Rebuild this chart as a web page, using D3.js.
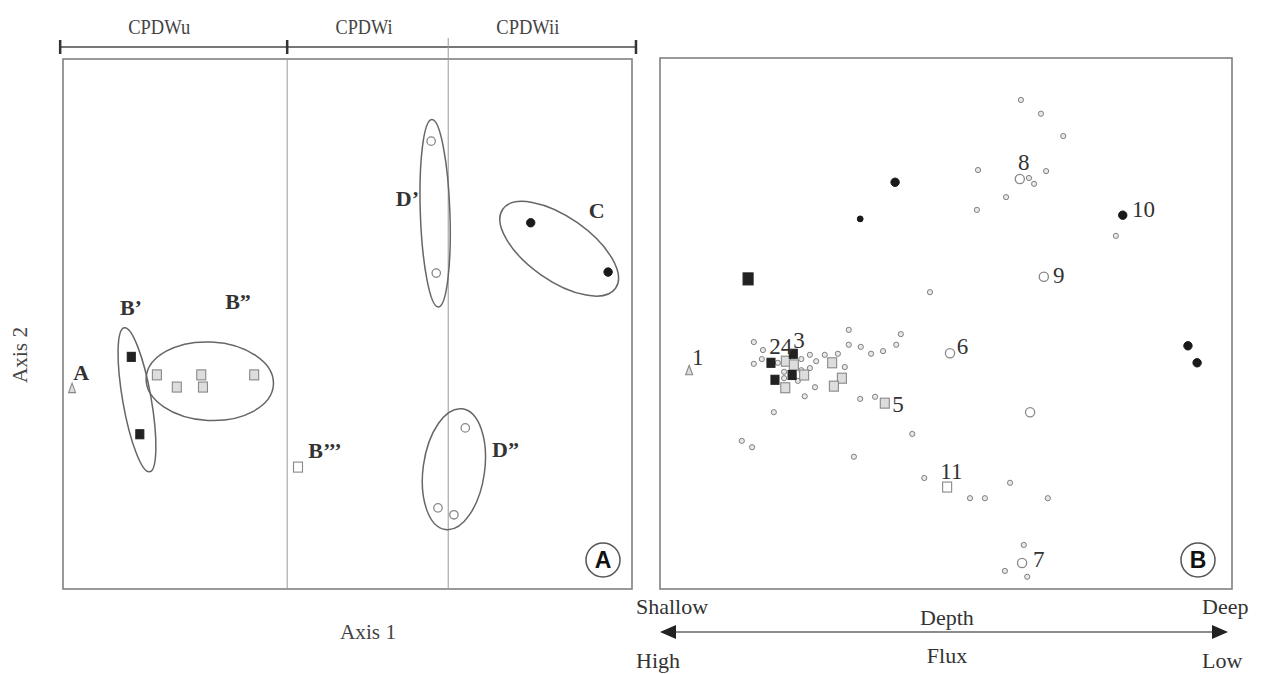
<!DOCTYPE html>
<html>
<head>
<meta charset="utf-8">
<script src="https://cdn.jsdelivr.net/npm/d3@7"></script>
<style>
  body { margin: 0; background: #fff; }
  text { font-family: "Liberation Serif", "Times New Roman", serif; fill: #222; }
</style>
</head>
<body>
<div id="chart"></div>
<script>
// ---- data (panel units 0..100 on both axes) ----

// panel A : groups along axis 1
var groupNames = ["CPDWu", "CPDWi", "CPDWii"];
var groupBounds = [-0.5, 39.4, 67.7, 100.7];
var groupLabelX = [16.9, 52.9, 81.7];
var groupLabelW = [62, 57, 63];

var aTriangle = [{x: 1.6, y: 37.9}];
var aFilledSq = [{x: 12.0, y: 43.8}, {x: 13.5, y: 29.2}];
var aGreySq = [{x: 16.5, y: 40.4}, {x: 20.0, y: 38.1}, {x: 24.3, y: 40.4}, {x: 24.6, y: 38.1}, {x: 33.6, y: 40.4}];
var aOpenSq = [{x: 41.3, y: 23.0}];
var aOpenCircle = [{x: 64.7, y: 84.5}, {x: 65.6, y: 59.6}, {x: 70.7, y: 30.4}, {x: 65.9, y: 15.3}, {x: 68.7, y: 14.0}];
var aFilledCircle = [{x: 82.2, y: 69.1}, {x: 95.8, y: 59.8}];

// cluster ellipses: centre, radii, rotation (deg)
var aClusters = [
  {name: "B’", cx: 13.0, cy: 35.7, rx: 2.5, ry: 13.8, rot: -10},
  {name: "B”", cx: 25.8, cy: 39.2, rx: 11.2, ry: 7.4, rot: 3},
  {name: "D’", cx: 65.4, cy: 70.9, rx: 2.6, ry: 17.7, rot: -2},
  {name: "C", cx: 87.2, cy: 64.2, rx: 12.1, ry: 6.0, rot: 35},
  {name: "D”", cx: 68.7, cy: 22.6, rx: 5.4, ry: 11.5, rot: 8}
];
var aLabels = [
  {t: "A", x: 1.8, y: 39.4}, {t: "B’", x: 10.0, y: 51.7}, {t: "B”", x: 28.5, y: 52.8},
  {t: "B’’’", x: 43.1, y: 24.7}, {t: "D’", x: 58.5, y: 72.3}, {t: "C", x: 92.4, y: 70.0},
  {t: "D”", x: 75.4, y: 24.9}
];

// panel B : samples
var bSmallCircle = [
  {x: 16.4, y: 46.5}, {x: 18.0, y: 45.0}, {x: 17.8, y: 43.3}, {x: 16.4, y: 42.4}, {x: 20.6, y: 42.6},
  {x: 21.7, y: 40.9}, {x: 21.7, y: 39.7}, {x: 24.7, y: 43.3}, {x: 26.2, y: 44.1}, {x: 27.3, y: 42.9},
  {x: 28.8, y: 44.1}, {x: 31.1, y: 44.3}, {x: 32.3, y: 41.8}, {x: 24.7, y: 41.2}, {x: 26.2, y: 41.6},
  {x: 24.1, y: 39.2}, {x: 27.1, y: 38.0}, {x: 25.3, y: 36.3}, {x: 19.9, y: 33.3}, {x: 33.0, y: 48.8},
  {x: 33.0, y: 46.0}, {x: 35.1, y: 45.6}, {x: 36.9, y: 44.3}, {x: 39.0, y: 44.8}, {x: 41.3, y: 46.0},
  {x: 42.1, y: 48.0}, {x: 35.0, y: 35.8}, {x: 37.6, y: 36.2}, {x: 44.1, y: 29.2}, {x: 14.3, y: 27.9},
  {x: 16.1, y: 26.7}, {x: 33.9, y: 24.9}, {x: 46.2, y: 20.9}, {x: 54.2, y: 17.1}, {x: 56.8, y: 17.1},
  {x: 61.2, y: 20.0}, {x: 67.8, y: 17.1}, {x: 63.6, y: 8.3}, {x: 60.3, y: 3.4}, {x: 64.2, y: 2.3},
  {x: 47.2, y: 55.9}, {x: 63.1, y: 92.1}, {x: 66.6, y: 89.5}, {x: 70.5, y: 85.3}, {x: 55.6, y: 78.9},
  {x: 67.5, y: 78.7}, {x: 64.5, y: 77.4}, {x: 65.4, y: 76.3}, {x: 60.5, y: 73.8}, {x: 55.4, y: 71.4},
  {x: 79.7, y: 66.5}, {x: 35.0, y: 69.7}
];
var bOpenCircle = [{x: 50.7, y: 44.4}, {x: 62.9, y: 77.2}, {x: 67.1, y: 58.8}, {x: 64.7, y: 33.3}, {x: 63.3, y: 4.9}];
var bFilledCircle = [{x: 80.9, y: 70.4}, {x: 92.3, y: 45.8}, {x: 93.9, y: 42.6}, {x: 41.1, y: 76.6}, {x: 35.0, y: 69.7, small: true}];
var bFilledSq = [{x: 15.4, y: 58.4, big: true}, {x: 19.4, y: 42.6}, {x: 23.3, y: 44.3}, {x: 20.1, y: 39.4}, {x: 23.1, y: 40.3}];
var bGreySq = [{x: 22.0, y: 42.9}, {x: 23.4, y: 42.2}, {x: 25.2, y: 40.3}, {x: 21.9, y: 37.9}, {x: 30.1, y: 42.6},
  {x: 31.8, y: 39.7}, {x: 30.4, y: 38.2}, {x: 39.3, y: 35.0}];
var bOpenSq = [{x: 50.2, y: 19.2}];
var bTriangle = [{x: 5.1, y: 41.2}];
var bLabels = [
  {t: "1", x: 5.6, y: 42.2}, {t: "24", x: 19.1, y: 44.3}, {t: "3", x: 23.3, y: 45.4}, {t: "5", x: 40.6, y: 33.3},
  {t: "6", x: 51.9, y: 44.3}, {t: "8", x: 62.6, y: 78.9}, {t: "9", x: 68.7, y: 57.6}, {t: "10", x: 82.5, y: 70.1},
  {t: "11", x: 49.0, y: 20.7}, {t: "7", x: 65.2, y: 4.1}
];

// gradient labels under panel B
var gradTop = ["Shallow", "Depth", "Deep"];
var gradBottom = ["High", "Flux", "Low"];

// ---- drawing ----
var W = 1263, H = 674;
var svg = d3.select("#chart").append("svg")
  .attr("width", W).attr("height", H);

var xA = d3.scaleLinear().domain([0, 100]).range([63, 632]);
var yA = d3.scaleLinear().domain([0, 100]).range([589, 59]);
var xB = d3.scaleLinear().domain([0, 100]).range([660, 1232]);
var yB = d3.scaleLinear().domain([0, 100]).range([589, 58]);

var greyLine = "#808080";

// marker helpers
function squares(g, data, x, y, fill, stroke, w) {
  g.selectAll(null).data(data).enter().append("rect")
    .attr("x", function(d) { var s = d.big ? w + 2 : w; return x(d.x) - s / 2; })
    .attr("y", function(d) { var s = d.big ? w + 4 : w + 1; return y(d.y) - s / 2; })
    .attr("width", function(d) { return d.big ? w + 2 : w; })
    .attr("height", function(d) { return d.big ? w + 4 : w + 1; })
    .style("fill", fill).style("stroke", stroke).style("stroke-width", 1.1);
}
function circles(g, data, x, y, r, fill, stroke, sw) {
  g.selectAll(null).data(data).enter().append("circle")
    .attr("cx", function(d) { return x(d.x); })
    .attr("cy", function(d) { return y(d.y); })
    .attr("r", function(d) { return d.small ? r - 1.3 : r; })
    .style("fill", fill).style("stroke", stroke).style("stroke-width", sw);
}
function triangles(g, data, x, y) {
  g.selectAll(null).data(data).enter().append("path")
    .attr("d", function(d) {
      var px = x(d.x), py = y(d.y);
      return "M" + px + "," + (py - 5) + "L" + (px + 3.5) + "," + (py + 4.5) + "L" + (px - 3.5) + "," + (py + 4.5) + "Z";
    })
    .style("fill", "#ddd").style("stroke", "#888").style("stroke-width", 1.1);
}
function circledLetter(g, cx, cy, letter) {
  g.append("circle").attr("cx", cx).attr("cy", cy).attr("r", 17)
    .style("fill", "#fff").style("stroke", "#555").style("stroke-width", 1.5);
  g.append("text").attr("x", cx).attr("y", cy + 8).attr("text-anchor", "middle")
    .style("font-family", "'Liberation Sans', Arial, sans-serif").style("font-weight", "bold")
    .style("font-size", "23px").style("fill", "#111")
    .text(letter);
}

// ===== panel A =====
var gA = svg.append("g");

// bracket with group ticks
gA.append("line")
  .attr("x1", xA(groupBounds[0])).attr("x2", xA(groupBounds[3]))
  .attr("y1", 47).attr("y2", 47)
  .style("stroke", "#777").style("stroke-width", 2);
gA.selectAll(null).data([groupBounds[0], groupBounds[1], groupBounds[3]]).enter().append("line")
  .attr("x1", function(d) { return xA(d); }).attr("x2", function(d) { return xA(d); })
  .attr("y1", 40).attr("y2", 54)
  .style("stroke", "#333").style("stroke-width", 2.5);

gA.selectAll(null).data(groupNames).enter().append("text")
  .attr("x", function(d, i) { return xA(groupLabelX[i]); })
  .attr("y", 34)
  .attr("text-anchor", "middle")
  .style("font-size", "21px").style("fill", "#444")
  .attr("textLength", function(d, i) { return groupLabelW[i]; })
  .attr("lengthAdjust", "spacingAndGlyphs")
  .text(function(d) { return d; });

// frame + dividers
gA.append("rect")
  .attr("x", xA(0)).attr("y", yA(100))
  .attr("width", xA(100) - xA(0)).attr("height", yA(0) - yA(100))
  .style("fill", "none").style("stroke", greyLine).style("stroke-width", 1.6);
gA.append("line")
  .attr("x1", xA(groupBounds[1])).attr("x2", xA(groupBounds[1]))
  .attr("y1", yA(100)).attr("y2", yA(0))
  .style("stroke", "#999").style("stroke-width", 1);
gA.append("line")
  .attr("x1", xA(groupBounds[2])).attr("x2", xA(groupBounds[2]))
  .attr("y1", 38).attr("y2", yA(0))
  .style("stroke", "#999").style("stroke-width", 1);

// cluster ellipses
var kx = (xA(1) - xA(0)), ky = (yA(0) - yA(1));
gA.selectAll(null).data(aClusters).enter().append("ellipse")
  .attr("cx", 0).attr("cy", 0)
  .attr("rx", function(d) { return d.rx * kx; })
  .attr("ry", function(d) { return d.ry * ky; })
  .attr("transform", function(d) { return "translate(" + xA(d.cx) + "," + yA(d.cy) + ") rotate(" + d.rot + ")"; })
  .style("fill", "none").style("stroke", "#666").style("stroke-width", 1.5);

// points
triangles(gA, aTriangle, xA, yA);
squares(gA, aFilledSq, xA, yA, "#222", "#222", 8);
squares(gA, aGreySq, xA, yA, "#ddd", "#888", 9);
squares(gA, aOpenSq, xA, yA, "#fff", "#888", 9);
circles(gA, aOpenCircle, xA, yA, 4.2, "#fff", "#888", 1.3);
circles(gA, aFilledCircle, xA, yA, 4.2, "#1a1a1a", "#1a1a1a", 1);

gA.selectAll(null).data(aLabels).enter().append("text")
  .attr("x", function(d) { return xA(d.x); })
  .attr("y", function(d) { return yA(d.y); })
  .style("font-size", "22px").style("font-weight", "bold").style("fill", "#333")
  .text(function(d) { return d.t; });

circledLetter(gA, 603, 560, "A");

// axis titles
gA.append("text")
  .attr("transform", "translate(27,355) rotate(-90)")
  .attr("text-anchor", "middle")
  .style("font-size", "20px").style("fill", "#444")
  .attr("textLength", 56).attr("lengthAdjust", "spacingAndGlyphs")
  .text("Axis 2");
gA.append("text")
  .attr("x", 368).attr("y", 639)
  .attr("text-anchor", "middle")
  .style("font-size", "20px").style("fill", "#444")
  .attr("textLength", 56).attr("lengthAdjust", "spacingAndGlyphs")
  .text("Axis 1");

// ===== panel B =====
var gB = svg.append("g");

gB.append("rect")
  .attr("x", xB(0)).attr("y", yB(100))
  .attr("width", xB(100) - xB(0)).attr("height", yB(0) - yB(100))
  .style("fill", "none").style("stroke", greyLine).style("stroke-width", 1.6);

circles(gB, bSmallCircle, xB, yB, 2.6, "#e8e8e8", "#808080", 1);
circles(gB, bOpenCircle, xB, yB, 4.6, "#fff", "#888", 1.3);
circles(gB, bFilledCircle, xB, yB, 4.2, "#1a1a1a", "#1a1a1a", 1);
squares(gB, bGreySq, xB, yB, "#ddd", "#888", 9);
squares(gB, bFilledSq, xB, yB, "#222", "#222", 8);
squares(gB, bOpenSq, xB, yB, "#fff", "#888", 9);
triangles(gB, bTriangle, xB, yB);

gB.selectAll(null).data(bLabels).enter().append("text")
  .attr("x", function(d) { return xB(d.x); })
  .attr("y", function(d) { return yB(d.y); })
  .style("font-size", "23px").style("fill", "#333")
  .text(function(d) { return d.t; });

circledLetter(gB, 1198, 560, "B");

// depth / flux double arrow
var arrowY = 632;
var ax0 = xB(0), ax1 = xB(100) - 4;
gB.append("line")
  .attr("x1", ax0 + 10).attr("x2", ax1 - 10)
  .attr("y1", arrowY).attr("y2", arrowY)
  .style("stroke", "#666").style("stroke-width", 1.6);
gB.append("path")
  .attr("d", "M" + ax0 + "," + arrowY + "L" + (ax0 + 16) + "," + (arrowY - 7) + "L" + (ax0 + 16) + "," + (arrowY + 7) + "Z")
  .style("fill", "#222");
gB.append("path")
  .attr("d", "M" + ax1 + "," + arrowY + "L" + (ax1 - 16) + "," + (arrowY - 7) + "L" + (ax1 - 16) + "," + (arrowY + 7) + "Z")
  .style("fill", "#222");

var gradX = [636, 947, 1202];
var gradAnchor = ["start", "middle", "start"];
gB.selectAll(null).data(gradTop).enter().append("text")
  .attr("x", function(d, i) { return gradX[i]; })
  .attr("y", function(d, i) { return i == 1 ? 625 : 614; })
  .attr("text-anchor", function(d, i) { return gradAnchor[i]; })
  .style("font-size", "22px").style("fill", "#333")
  .text(function(d) { return d; });
gB.selectAll(null).data(gradBottom).enter().append("text")
  .attr("x", function(d, i) { return gradX[i]; })
  .attr("y", function(d, i) { return i == 1 ? 663 : 668; })
  .attr("text-anchor", function(d, i) { return gradAnchor[i]; })
  .style("font-size", "22px").style("fill", "#333")
  .text(function(d) { return d; });
</script>
</body>
</html>
